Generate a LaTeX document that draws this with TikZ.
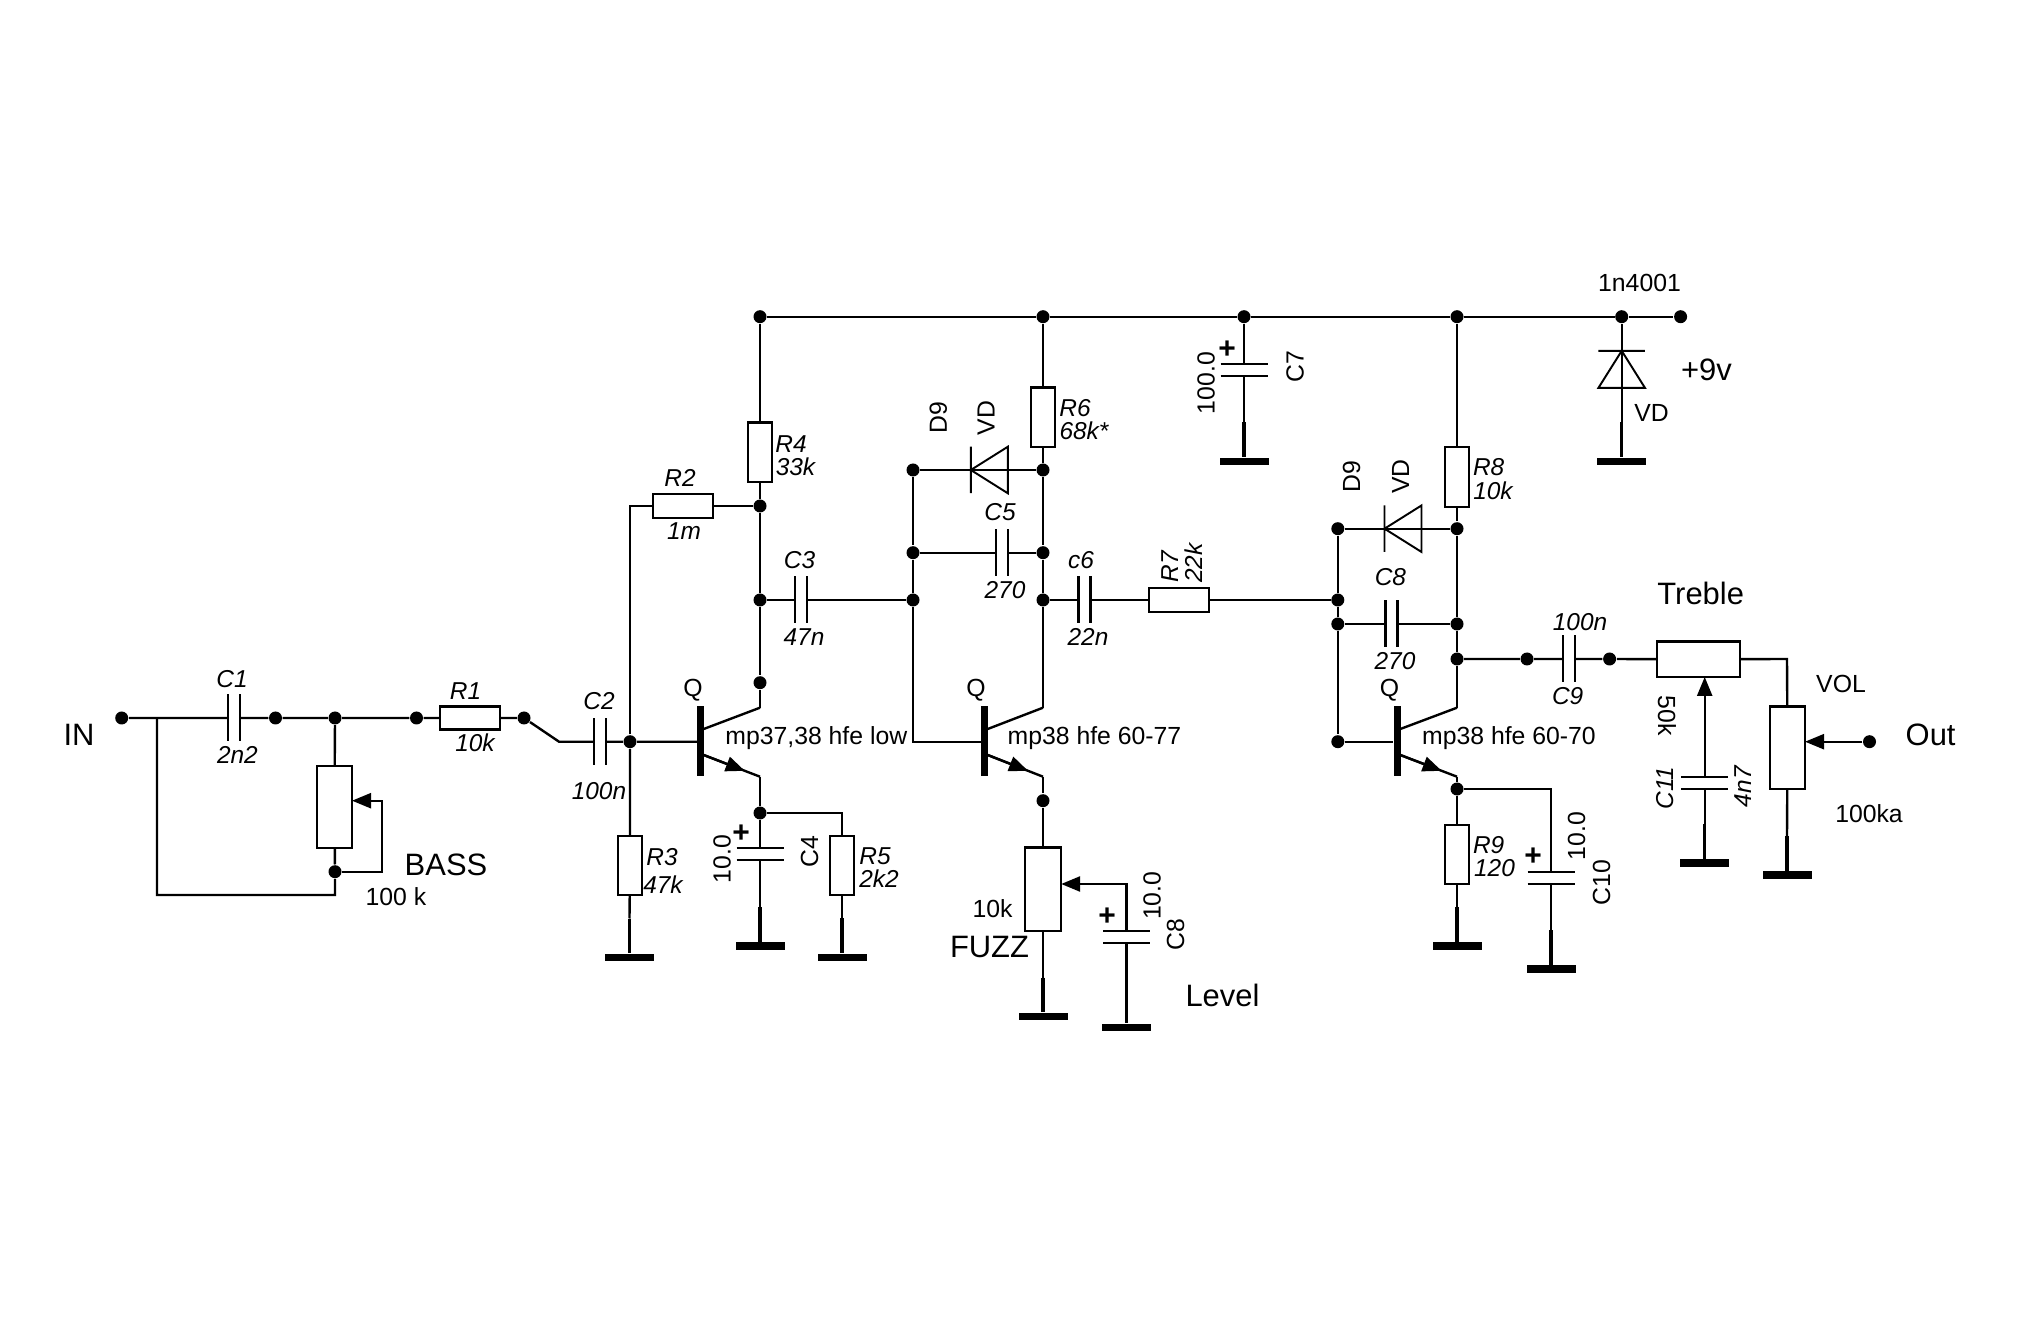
\documentclass[tikz,border=0pt]{standalone}
\usepackage{fontspec}
\setmainfont{Liberation Sans}
\usetikzlibrary{arrows.meta, calc}
\tikzset{
  wire/.style = {line width = 0.68pt},
  ptr/.style = {-{Triangle[length = 0.19cm, width = 0.15cm]}},
  dot/.style = {circle, fill, inner sep = 0pt, minimum size = 0.13cm},
  res/.style = {draw, wire, inner sep = 0pt, outer sep = 0pt},
  capa/.style = {inner sep = 0pt, outer sep = 0pt, minimum width = 0.12cm, minimum height = 0.47cm},
  diode/.style = {inner sep = 0pt, outer sep = 0pt, minimum width = 0.37cm, minimum height = 0.465cm},
  gbar/.style = {fill, inner sep = 0pt, minimum width = 0.49cm, minimum height = 0.075cm},
  qbar/.style = {fill, inner sep = 0pt, minimum width = 0.065cm, minimum height = 0.697cm},
  lab/.style = {inner sep = 0pt, font = \fontsize{7.05}{8}\selectfont},
  labit/.style = {inner sep = 0pt, font = \fontsize{6.95}{8}\selectfont\itshape},
  labbig/.style = {inner sep = 0pt, font = \fontsize{8.8}{10}\selectfont},
  labplus/.style = {inner sep = 0pt, font = \fontsize{8.53}{10}\selectfont\bfseries}
}
\begin{document}
\begin{tikzpicture}[x = 1cm, y = -1cm]
\useasboundingbox (0,0) rectangle (20.17,13.37);
\foreach \n/\x/\y in {in/1.217/7.18, ia/2.755/7.18, ib/3.35/7.18, ic/4.165/7.18, id/5.24/7.18, ie/6.30/7.417, bd/3.35/8.717,
  ta/7.60/3.167, tb/10.43/3.167, tc/12.44/3.167, td/14.57/3.167, te/16.217/3.167, tf/16.806/3.167,
  aa/7.60/5.06, ab/7.60/6.00, ac/7.60/6.827, ad/7.60/8.13,
  ba/9.13/4.70, bb/9.13/5.527, bc/9.13/6.00, ca/10.43/4.70, cb/10.43/5.527, cc/10.43/6.00, ce/10.43/8.007,
  da/13.378/5.287, db/13.378/6.00, dc/13.378/6.24, dd/13.378/7.417,
  ea/14.57/5.287, eb/14.57/6.24, ec/14.57/6.59, ed/14.57/7.89,
  fa/15.27/6.59, fb/16.096/6.59, out/18.695/7.417}
  \node[dot] (\n) at (\x,\y) {};
\coordinate (tap) at (1.57,7.18);
\coordinate (kink) at (5.59,7.417);
\coordinate (bw) at (3.82,8.007);
\coordinate (bl) at (3.35,8.95);
\coordinate (rb) at (6.30,5.06);
\coordinate (fw) at (11.265,8.84);
\coordinate (tr) at (17.87,6.59);

\node[res, minimum width = 0.60cm, minimum height = 0.233cm] (r1) at (4.70,7.18) {};
\node[res, minimum width = 0.60cm, minimum height = 0.246cm] (r2) at (6.83,5.06) {};
\node[res, minimum width = 0.245cm, minimum height = 0.596cm] (r3) at (6.30,8.655) {};
\node[res, minimum width = 0.24cm, minimum height = 0.593cm] (r4) at (7.60,4.523) {};
\node[res, minimum width = 0.235cm, minimum height = 0.593cm] (r5) at (8.42,8.655) {};
\node[res, minimum width = 0.24cm, minimum height = 0.593cm] (r6) at (10.43,4.173) {};
\node[res, minimum width = 0.60cm, minimum height = 0.246cm] (r7) at (11.79,6.00) {};
\node[res, minimum width = 0.236cm, minimum height = 0.60cm] (r8) at (14.57,4.767) {};
\node[res, minimum width = 0.236cm, minimum height = 0.596cm] (r9) at (14.57,8.545) {};
\node[res, minimum width = 0.35cm, minimum height = 0.825cm] (bass) at (3.345,8.07) {};
\node[res, minimum width = 0.363cm, minimum height = 0.833cm] (fuzz) at (10.43,8.893) {};
\node[res, minimum width = 0.83cm, minimum height = 0.353cm] (treble) at (16.985,6.593) {};
\node[res, minimum width = 0.35cm, minimum height = 0.823cm] (vol) at (17.875,7.478) {};

\node[capa] (c1) at (2.34,7.18) {};
\node[capa] (c2) at (6.00,7.417) {};
\node[capa] (c3) at (8.01,6.00) {};
\node[capa, rotate = 90] (c4) at (7.60,8.54) {};
\node[capa] (c5) at (10.02,5.527) {};
\node[capa] (c6) at (10.845,6.00) {};
\node[capa, rotate = 90] (c7) at (12.44,3.70) {};
\node[capa, rotate = 90] (c8) at (11.265,9.37) {};
\node[capa] (c8b) at (13.915,6.24) {};
\node[capa] (c9) at (15.69,6.59) {};
\node[capa, rotate = 90] (c10) at (15.51,8.78) {};
\node[capa, rotate = 90] (c11) at (17.047,7.83) {};
\foreach \c in {c1,c2,c3,c4,c5,c6,c7,c8,c8b,c9,c10,c11}
  \draw[wire] (\c.north west) -- (\c.south west) (\c.north east) -- (\c.south east);

\node[diode] (d1) at (9.893,4.70) {};
\node[diode] (d2) at (14.03,5.287) {};
\node[diode, rotate = -90] (d3) at (16.217,3.6935) {};
\foreach \d in {d1,d2,d3}
  \draw[line width = 0.55pt] (\d.north west) -- (\d.south west) (\d.west) -- (\d.north east) -- (\d.south east) -- cycle;

\foreach \n/\x/\y in {g3/6.295/9.575, g4/7.60/9.46, g5/8.42/9.573, gf/10.43/10.165, g8/11.265/10.275, g7/12.44/4.615,
  gd/16.217/4.615, g9/14.57/9.46, g10/15.51/9.69, g11/17.047/8.63, gv/17.87/8.75} {
  \node[gbar] (\n) at (\x,\y) {};
  \coordinate (\n s) at (\x,\y-0.39);
  \draw[line width = 1pt] (\n s) -- (\n);
}

\foreach \q/\x/\c in {qa/7.007/7.60, qb/9.847/10.43, qc/13.973/14.57} {
  \node[qbar] (\q) at (\x,7.41) {};
  \coordinate (\q c) at (\c,7.077);
  \coordinate (\q e) at (\c,7.767);
  \coordinate (\q i) at (\x+0.03,7.29);
  \coordinate (\q o) at (\x+0.03,7.55);
  \draw[wire] (\q i) -- (\q c);
  \draw[wire] (\q o) -- (\q e);
  \draw[wire, ptr] (\q o) -- ($(\q o)!0.73!(\q e)$);
}

\draw[wire] (in) -- (c1) -- (ia) -- (ib) -- (ic) -- (r1) -- (id) -- (kink) -- (c2) -- (ie) -- (ie -| qa.west);
\draw[wire] (ib) -- (bass) -- (bd) -- (bl) -| (tap);
\draw[wire, ptr] (bd) -| (bw) -- (bw -| bass.east);
\draw[wire] (ie) -- (rb) -- (r2) -- (aa);
\draw[wire] (ie) -- (r3) -- (g3s);
\draw[wire] (ta) -- (tb) -- (tc) -- (td) -- (te) -- (tf);
\draw[wire] (ta) -- (r4) -- (aa) -- (ab) -- (ac) -- (qac);
\draw[wire] (qae) -- (ad) -- (c4) -- (g4s);
\draw[wire] (ad) -| (r5);
\draw[wire] (r5) -- (g5s);
\draw[wire] (ab) -- (c3) -- (bc);
\draw[wire] (ba) -- (bb) -- (bc) -- (bc |- dd) -- (dd -| qb.west);
\draw[wire] (ba) -- (d1.center) -- (ca);
\draw[wire] (bb) -- (c5) -- (cb);
\draw[wire] (tb) -- (r6) -- (ca) -- (cb) -- (cc) -- (qbc);
\draw[wire] (qbe) -- (ce) -- (fuzz) -- (gfs);
\draw[wire, ptr] (c8) -- (fw) -- (fw -| fuzz.east);
\draw[wire] (c8) -- (g8s);
\draw[wire] (cc) -- (c6) -- (r7) -- (db);
\draw[wire] (tc) -- (c7) -- (g7s);
\draw[wire] (da) -- (db) -- (dc) -- (dd) -- (dd -| qc.west);
\draw[wire] (da) -- (d2.center) -- (ea);
\draw[wire] (dc) -- (c8b) -- (eb);
\draw[wire] (td) -- (r8) -- (ea) -- (eb) -- (ec) -- (qcc);
\draw[wire] (qce) -- (ed) -- (r9) -- (g9s);
\draw[wire] (ed) -| (c10);
\draw[wire] (c10) -- (g10s);
\draw[wire] (ec) -- (fa) -- (c9) -- (fb) -- (treble) -- (tr) -- (vol) -- (gvs);
\draw[wire, ptr] (c11) -- (c11 |- treble.south);
\draw[wire] (c11) -- (g11s);
\draw[wire, ptr] (out) -- (out -| vol.east);
\draw[wire] (te) -- (d3.center) -- (gds);

\node[labbig] (tin) at (0.79,7.35) {IN};
\node[labit] (tc1) at (2.32,6.79) {C1};
\node[labit] (vc1) at (2.374,7.55) {2n2};
\node[labit] (tr1) at (4.656,6.91) {R1};
\node[labit] (vr1) at (4.75,7.43) {10k};
\node[labit] (tc2) at (5.99,7.01) {C2};
\node[labit] (vc2) at (5.99,7.91) {100n};
\node[labbig] (tbass) at (4.46,8.65) {BASS};
\node[lab] (vbass) at (3.96,8.97) {100 k};
\node[labit] (tr3) at (6.62,8.57) {R3};
\node[labit] (vr3) at (6.63,8.85) {47k};
\node[lab] (tqa) at (6.93,6.90) {Q};
\node[lab] (tqb) at (9.76,6.90) {Q};
\node[lab] (tqc) at (13.896,6.90) {Q};
\node[lab] (mqa) at (8.163,7.385) {mp37,38 hfe low};
\node[lab] (mqb) at (10.945,7.385) {mp38 hfe 60-77};
\node[lab] (mqc) at (15.09,7.385) {mp38 hfe 60-70};
\node[lab, rotate = 90] (vc4) at (7.22,8.59) {10.0};
\node[labplus] (pc4) at (7.41,8.34) {+};
\node[lab, rotate = 90] (tc4) at (8.096,8.52) {C4};
\node[labit] (tr5) at (8.75,8.56) {R5};
\node[labit] (vr5) at (8.79,8.79) {2k2};
\node[labit] (tr2) at (6.80,4.78) {R2};
\node[labit] (vr2) at (6.84,5.31) {1m};
\node[labit] (tr4) at (7.91,4.44) {R4};
\node[labit] (vr4) at (7.955,4.667) {33k};
\node[labit] (tc3) at (7.995,5.60) {C3};
\node[labit] (vc3) at (8.04,6.37) {47n};
\node[lab, rotate = 90] (td1) at (9.384,4.18) {D9};
\node[lab, rotate = 90] (vd1) at (9.86,4.18) {VD};
\node[labit] (tr6) at (10.75,4.08) {R6};
\node[labit] (vr6) at (10.84,4.31) {68k*};
\node[labit] (tc5) at (10.00,5.12) {C5};
\node[labit] (vc5) at (10.05,5.90) {270};
\node[labit] (tc6) at (10.81,5.60) {c6};
\node[labit] (vc6) at (10.88,6.37) {22n};
\node[labit, rotate = 90] (tr7) at (11.70,5.67) {R7};
\node[labit, rotate = 90] (vr7) at (11.94,5.63) {22k};
\node[lab, rotate = 90] (vc7) at (12.06,3.83) {100.0};
\node[labplus] (pc7) at (12.27,3.50) {+};
\node[lab, rotate = 90] (tc7) at (12.95,3.67) {C7};
\node[lab] (td3) at (16.395,2.825) {1n4001};
\node[labbig] (tnine) at (17.065,3.70) {+9v};
\node[lab] (vd3) at (16.516,4.13) {VD};
\node[lab, rotate = 90] (td2) at (13.516,4.77) {D9};
\node[lab, rotate = 90] (vd2) at (14.007,4.767) {VD};
\node[labit] (tr8) at (14.887,4.67) {R8};
\node[labit] (vr8) at (14.93,4.907) {10k};
\node[labit] (tc8b) at (13.904,5.77) {C8};
\node[labit] (vc8b) at (13.95,6.607) {270};
\node[labbig] (ttreble) at (17.007,5.93) {Treble};
\node[labit] (vc9) at (15.80,6.217) {100n};
\node[labit] (tc9) at (15.677,6.963) {C9};
\node[lab, rotate = -90] (vtreble) at (16.67,7.157) {50k};
\node[labit, rotate = 90] (tc11) at (16.65,7.88) {C11};
\node[labit, rotate = 90] (vc11) at (17.43,7.867) {4n7};
\node[lab] (tvol) at (18.41,6.84) {VOL};
\node[lab] (vvol) at (18.69,8.14) {100ka};
\node[labbig] (tout) at (19.306,7.35) {Out};
\node[labit] (tr9) at (14.887,8.45) {R9};
\node[labit] (vr9) at (14.945,8.68) {120};
\node[labplus] (pc10) at (15.33,8.57) {+};
\node[lab, rotate = 90] (vc10) at (15.766,8.36) {10.0};
\node[lab, rotate = 90] (tc10) at (16.016,8.827) {C10};
\node[lab] (vfuzz) at (9.926,9.09) {10k};
\node[labbig] (tfuzz) at (9.895,9.47) {FUZZ};
\node[lab, rotate = 90] (vc8) at (11.52,8.957) {10.0};
\node[lab, rotate = 90] (tc8) at (11.756,9.35) {C8};
\node[labplus] (pc8) at (11.07,9.167) {+};
\node[labbig] (tlevel) at (12.225,9.957) {Level};
\end{tikzpicture}
\end{document}
